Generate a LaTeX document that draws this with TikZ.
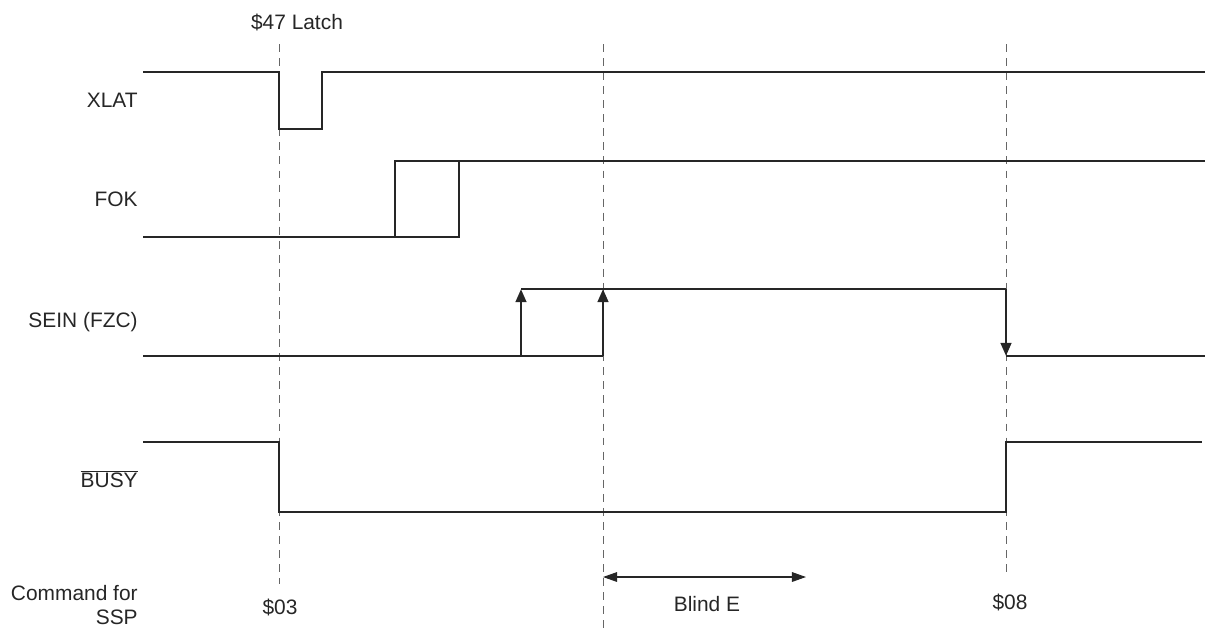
\documentclass[tikz,border=0pt]{standalone}
\usepackage{fontspec}
\setmainfont{Liberation Sans}
\usetikzlibrary{arrows.meta}
\begin{document}
\begin{tikzpicture}[x=0.02cm,y=-0.02cm,
  sig/.style={line width=1.6pt,line join=miter,black!85},
  guide/.style={dash pattern=on 4.5pt off 3.5pt,line width=0.4pt,black!60},
  tip/.style={-{Triangle[length=7.5pt,width=6pt]}},
  lbl/.style={font=\fontsize{11.9}{14}\selectfont,text=black!85,inner sep=0pt},
  lblr/.style={lbl,anchor=east}]
\useasboundingbox (0,0) rectangle (1206,630);
% guides
\draw[guide] (279,44) -- (279,584);
\draw[guide] (603,44) -- (603,630);
\draw[guide] (1006,44) -- (1006,578);
% XLAT
\draw[sig] (143,72) -- (279,72) -- (279,129) -- (322,129) -- (322,72) -- (1205,72);
% FOK
\draw[sig] (143,237) -- (459,237) -- (459,161);
\draw[sig] (395,237) -- (395,161) -- (1205,161);
% SEIN
\draw[sig] (143,356) -- (603,356);
\draw[sig] (521,289) -- (1006,289);
\draw[sig,tip] (521,356) -- (521,289);
\draw[sig,tip] (603,356) -- (603,289);
\draw[sig,tip] (1006,289) -- (1006,356);
\draw[sig] (1006,356) -- (1205,356);
% BUSY
\draw[sig] (143,442) -- (279,442) -- (279,512) -- (1006,512) -- (1006,442) -- (1202,442);
% Blind E arrow
\coordinate (be1) at (603,577);
\coordinate (be2) at (806,577);
\draw[line width=0.6pt,black!85,{Triangle[length=8pt,width=5.5pt]}-{Triangle[length=8pt,width=5.5pt]}] (be1) -- (be2);
% labels
\node[lblr] (xlat) at (138,100) {XLAT};
\node[lblr] (fok) at (138,199) {FOK};
\node[lblr] (sein) at (138,322) {SEIN (FZC)};
\node[lblr] (busy) at (138,479) {$\overline{\mbox{BUSY}}$};
\node[lbl,align=right,anchor=east] (cmd) at (138,605) {Command for\\SSP};
\node[lbl] (latch) at (297,22) {\$47 Latch};
\node[lbl] (s03) at (280,607) {\$03};
\node[lbl] (blind) at (707,604) {Blind E};
\node[lbl] (s08) at (1010,602) {\$08};
\end{tikzpicture}
\end{document}
